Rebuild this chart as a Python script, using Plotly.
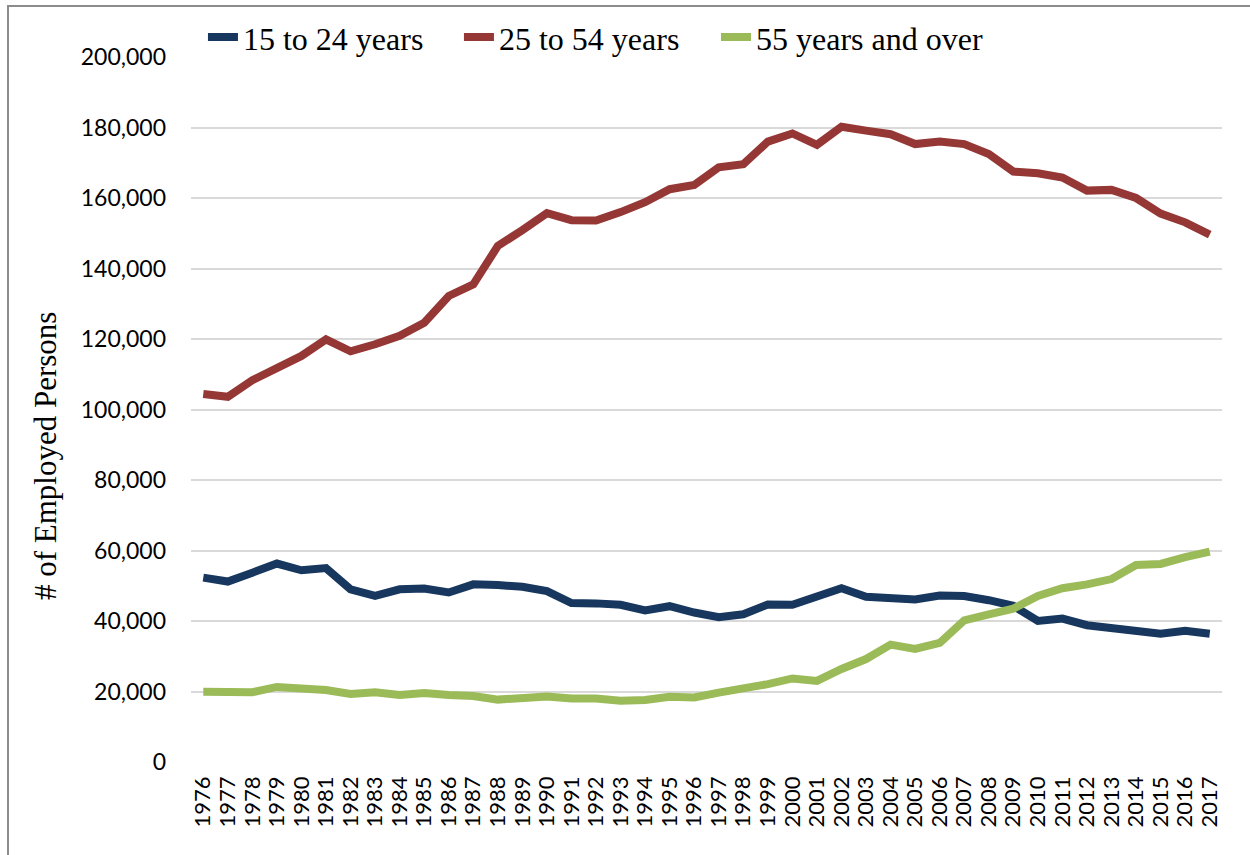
import plotly.graph_objects as go

years = [str(y) for y in range(1976, 2018)]

age_15_24 = [52300, 51200, 53700, 56300, 54400, 55000, 49000, 47100, 49000, 49200,
             48100, 50400, 50200, 49700, 48500, 45100, 45000, 44600, 43000, 44200,
             42400, 41100, 41900, 44700, 44600, 46800, 49300, 46900, 46500, 46100,
             47200, 47100, 45900, 44300, 40000, 40700, 38800, 38100, 37400, 36400,
             37200, 36400]

age_25_54 = [104400, 103600, 108300, 111700, 115200, 119900, 116500, 118500, 120900, 124600,
             132200, 135500, 146400, 150900, 155700, 153700, 153600, 156000, 158800, 162500,
             163700, 168700, 169600, 176000, 178300, 175100, 180200, 179100, 178100, 175300,
             176000, 175300, 172500, 167500, 167000, 165800, 162100, 162300, 160000, 155600,
             153100, 149600]

age_55_over = [19900, 19900, 19800, 21300, 20800, 20400, 19300, 19800, 19000, 19600,
               19000, 18700, 17700, 18300, 18600, 18000, 18000, 17400, 17600, 18500,
               18300, 19700, 20700, 22100, 23700, 23000, 26400, 29200, 33300, 32100,
               33800, 40200, 41900, 43500, 47100, 49300, 50400, 51900, 55900, 56200,
               58100, 59700]

series = [
    ("15 to 24 years", age_15_24, "#17375E", "legend"),
    ("25 to 54 years", age_25_54, "#953735", "legend2"),
    ("55 years and over", age_55_over, "#9BBB59", "legend3"),
]
legend_x = [0.0116, 0.2599, 0.5092]

fig = go.Figure()
for name, vals, col, lg in series:
    fig.add_trace(go.Scatter(x=years, y=vals, name=name, mode="lines",
                             line=dict(color=col, width=8), legend=lg))

legend_common = dict(orientation="h", xanchor="left", y=1.028, yanchor="middle",
                     font=dict(family="Liberation Serif", size=32, color="black"),
                     bgcolor="rgba(0,0,0,0)", itemwidth=30)

fig.update_layout(
    width=1250, height=855,
    margin=dict(l=191, r=28, t=57, b=93, autoexpand=False),
    paper_bgcolor="white", plot_bgcolor="white",
    showlegend=True,
    legend=dict(x=legend_x[0], **legend_common),
    legend2=dict(x=legend_x[1], **legend_common),
    legend3=dict(x=legend_x[2], **legend_common),
    font=dict(family="Lato, Open Sans, sans-serif", color="black"),
)

fig.update_xaxes(
    type="category", tickangle=-90, showgrid=False, zeroline=False, showline=False,
    tickmode="array", tickvals=years, ticktext=years,
    tickfont=dict(family="Lato, Open Sans, sans-serif", size=22, color="black"),
    ticklabelstandoff=9, range=[-0.5, len(years) - 0.5], automargin=False,
)

fig.update_yaxes(
    range=[0, 200000], dtick=20000, tickformat=",d", showgrid=True,
    gridcolor="#D9D9D9", gridwidth=1.5, zeroline=False, showline=False,
    tickfont=dict(family="Lato, Open Sans, sans-serif", size=23, color="black"),
    ticklabelstandoff=24, automargin=False,
)

# y-axis title placed as in the reference (below the plot centre)
fig.add_annotation(text="# of Employed Persons", textangle=-90,
                   xref="paper", yref="paper", x=-0.1416, y=0.434,
                   xanchor="center", yanchor="middle", showarrow=False,
                   font=dict(family="Liberation Serif", size=31, color="black"))

# outer frame border (left and top visible)
fig.add_shape(type="path", xref="paper", yref="paper",
              path="M -0.1775,-0.2 L -0.1775,1.0723 L 1.1,1.0723",
              line=dict(color="#8C8C8C", width=2))

fig.write_html("out.html", config={"displayModeBar": False},
               post_script="document.body.style.margin='0';document.body.style.overflow='hidden';")
